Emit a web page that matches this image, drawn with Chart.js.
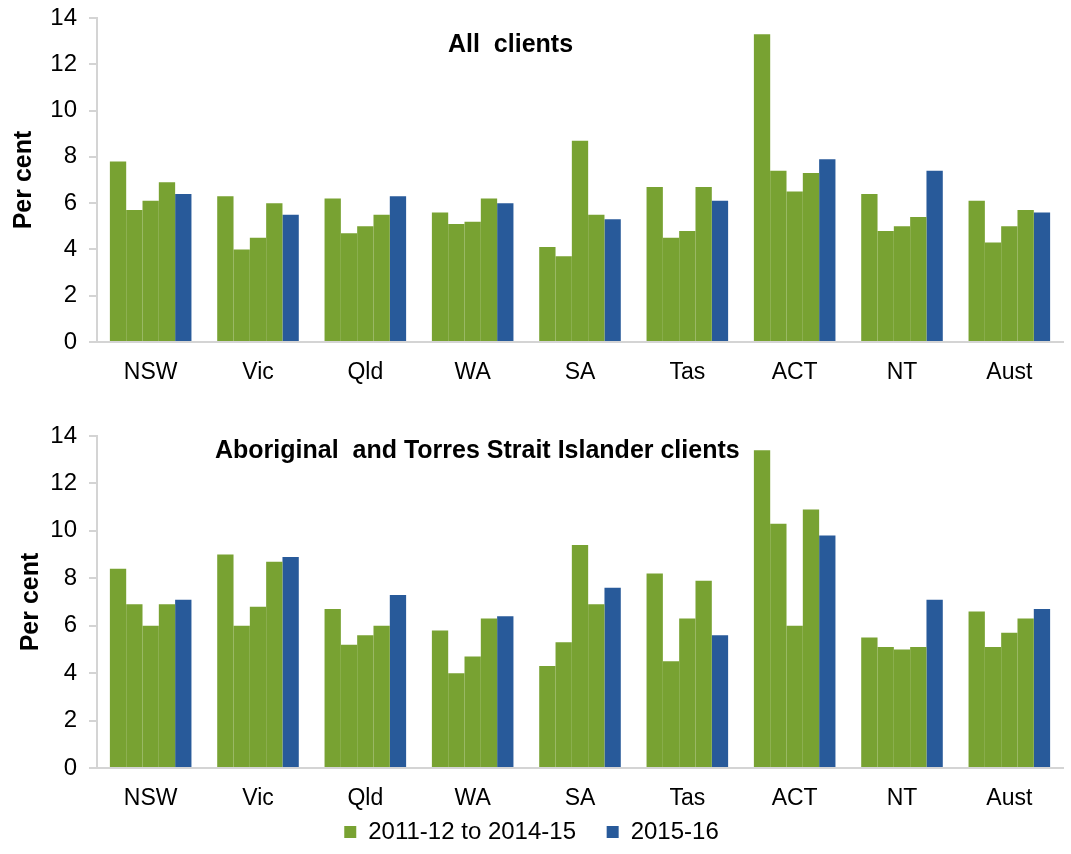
<!DOCTYPE html>
<html>
<head>
  <title>Clients by state</title>
  <script src="https://cdn.jsdelivr.net/npm/chart.js"></script>
  <style>
    body { margin: 0; background: #fff; font-family: "Liberation Sans", Arial, sans-serif; overflow: hidden; }
    .panel { position: absolute; left: 0; width: 1071px; }
    .title { position: absolute; font-weight: bold; font-size: 25px; color: #000; white-space: pre; line-height: 1; }
  </style>
</head>
<body>
  <div class="panel" style="top:0; height:400px;">
    <canvas id="allChart" width="1071" height="400"></canvas>
    <div class="title" style="left:448px; top:31px;">All  clients</div>
  </div>
  <div class="panel" style="top:400px; height:454px;">
    <canvas id="atsiChart" width="1071" height="454"></canvas>
    <div class="title" style="left:215px; top:37px;">Aboriginal  and Torres Strait Islander clients</div>
  </div>

  <script>
    const states = ['NSW', 'Vic', 'Qld', 'WA', 'SA', 'Tas', 'ACT', 'NT', 'Aust'];
    const yearLabels = ['2011-12 to 2014-15', '2012-13', '2013-14', '2014-15', '2015-16'];
    const yTicks = [0, 2, 4, 6, 8, 10, 12, 14];

    // All clients
    const all1112 = [7.8, 6.3, 6.2, 5.6, 4.1, 6.7, 13.3, 6.4, 6.1];
    const all1213 = [5.7, 4.0, 4.7, 5.1, 3.7, 4.5, 7.4, 4.8, 4.3];
    const all1314 = [6.1, 4.5, 5.0, 5.2, 8.7, 4.8, 6.5, 5.0, 5.0];
    const all1415 = [6.9, 6.0, 5.5, 6.2, 5.5, 6.7, 7.3, 5.4, 5.7];
    const all1516 = [6.4, 5.5, 6.3, 6.0, 5.3, 6.1, 7.9, 7.4, 5.6];

    // Aboriginal and Torres Strait Islander clients
    const atsi1112 = [8.4, 9.0, 6.7, 5.8, 4.3, 8.2, 13.4, 5.5, 6.6];
    const atsi1213 = [6.9, 6.0, 5.2, 4.0, 5.3, 4.5, 10.3, 5.1, 5.1];
    const atsi1314 = [6.0, 6.8, 5.6, 4.7, 9.4, 6.3, 6.0, 5.0, 5.7];
    const atsi1415 = [6.9, 8.7, 6.0, 6.3, 6.9, 7.9, 10.9, 5.1, 6.3];
    const atsi1516 = [7.1, 8.9, 7.3, 6.4, 7.6, 5.6, 9.8, 7.1, 6.7];

    const green = '#78a232';
    const blue = '#285a9a';
    const axisGrey = '#d4d4d4';

    Chart.defaults.font.family = '"Liberation Sans", Arial, sans-serif';
    Chart.defaults.color = '#000';

    // only two legend entries: the four green years share one key
    function legendItems(chart) {
      return Chart.defaults.plugins.legend.labels.generateLabels(chart)
        .filter(item => item.datasetIndex === 0 || item.datasetIndex === 4)
        .map(item => item.datasetIndex === 0 ? { ...item, text: item.text + '    ' } : item);
    }

    function makeChart(id, series, showLegend, titleTop) {
      const ctx = document.getElementById(id).getContext('2d');
      return new Chart(ctx, {
        type: 'bar',
        data: {
          labels: states,
          datasets: series.map((values, i) => ({
            label: yearLabels[i],
            data: values,
            backgroundColor: i === 4 ? blue : green,
            borderWidth: 0,
          })),
        },
        options: {
          responsive: false,
          animation: false,
          categoryPercentage: 0.76,
          barPercentage: 1.0,
          layout: { padding: { left: 0, right: 8, top: showLegend ? 36 : 18, bottom: showLegend ? 0 : 14 } },
          plugins: {
            tooltip: { enabled: false },
            legend: {
              display: showLegend,
              position: 'bottom',
              labels: {
                boxWidth: 12,
                boxHeight: 12,
                padding: 4,
                font: { size: 24 },
                generateLabels: legendItems,
              },
            },
          },
          scales: {
            x: {
              afterFit: (scale) => { scale.height = showLegend ? 48 : 44; },
              grid: { display: false, drawTicks: false },
              border: { display: true, color: axisGrey, width: 2 },
              ticks: { font: { size: 23 }, padding: 17 },
            },
            y: {
              min: 0,
              max: 14,
              afterBuildTicks: (scale) => { scale.ticks = yTicks.map(v => ({ value: v })); },
              afterFit: (scale) => {
                scale.width = 97;
                scale.paddingTop = 0;
                scale.paddingBottom = 0;
              },
              grid: { display: true, drawOnChartArea: false, drawTicks: true, tickLength: 8, color: axisGrey, lineWidth: 2 },
              border: { display: true, color: axisGrey, width: 2 },
              ticks: { font: { size: 24 }, padding: 12 },
              title: {
                display: true,
                text: 'Per cent',
                font: { size: 25, weight: 'bold' },
                padding: { top: titleTop, bottom: 0 },
              },
            },
          },
        },
      });
    }

    makeChart('allChart', [all1112, all1213, all1314, all1415, all1516], false, 9);
    makeChart('atsiChart', [atsi1112, atsi1213, atsi1314, atsi1415, atsi1516], true, 16);
  </script>
</body>
</html>
